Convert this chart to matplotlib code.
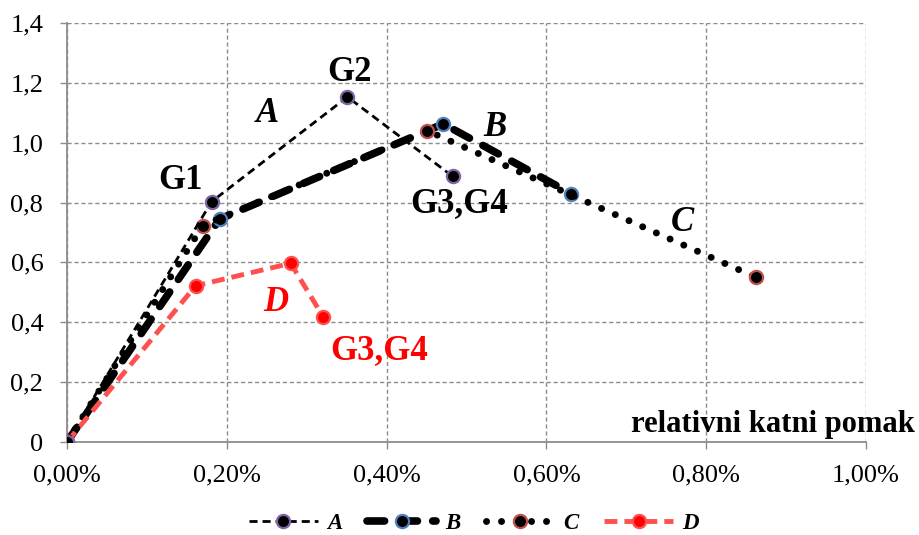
import matplotlib
matplotlib.use("Agg")
import matplotlib.pyplot as plt
from matplotlib.ticker import FuncFormatter, MultipleLocator

plt.rcParams['font.family'] = ['serif']
plt.rcParams['font.serif'] = ['Liberation Serif', 'DejaVu Serif']

# Data: x = relative storey drift (%), y = normalised force
A_x = [0.0, 0.181, 0.351, 0.4825]
A_y = [0.0, 0.803, 1.153, 0.888]
B_x = [0.0, 0.191, 0.471, 0.631]
B_y = [0.0, 0.745, 1.063, 0.830]
C_x = [0.0, 0.170, 0.451, 0.8625]
C_y = [0.0, 0.723, 1.040, 0.550]
D_x = [0.0, 0.161, 0.280, 0.321]
D_y = [0.0, 0.522, 0.597, 0.417]

fig = plt.figure(figsize=(9.2, 5.35), dpi=100)
ax = fig.add_axes([0.0728, 0.1738, 0.8685, 0.7832])

ms = 9.5
hA, = ax.plot(A_x, A_y, color='black', lw=2.0, ls=(0, (2.9, 1.8)), marker='o',
              ms=ms, mfc='black', mec='#8064a2', mew=1.6, label='A', zorder=4)
hB, = ax.plot(B_x, B_y, color='black', lw=5.5, ls=(0, (2.3, 2.0)),
              dash_capstyle='round', marker='o',
              ms=ms, mfc='black', mec='#4f81bd', mew=1.6, label='B', zorder=3)
hC, = ax.plot(C_x, C_y, color='black', lw=5.0, ls=(0, (0.01, 2.15)),
              dash_capstyle='round', marker='o',
              ms=ms, mfc='black', mec='#c0504d', mew=1.6, label='C', zorder=3)
hD, = ax.plot(D_x, D_y, color='#ff5050', lw=3.5, ls=(0, (2.65, 1.45)), marker='o',
              ms=ms, mfc='red', mec='#ff5050', mew=1.6, label='D', zorder=3)

ax.set_xlim(0, 1.0)
ax.set_ylim(0, 1.4)
ax.xaxis.set_major_locator(MultipleLocator(0.2))
ax.yaxis.set_major_locator(MultipleLocator(0.2))
ax.xaxis.set_major_formatter(FuncFormatter(lambda v, p: f"{v:.2f}%".replace('.', ',')))
ax.yaxis.set_major_formatter(FuncFormatter(lambda v, p: '0' if abs(v) < 1e-9 else f"{v:.1f}".replace('.', ',')))

ax.grid(True, color='#8c8c8c', ls=(0, (3, 2)), lw=1.0)
for s in ['top', 'right']:
    ax.spines[s].set_visible(False)
for s in ['left', 'bottom']:
    ax.spines[s].set_color('#8c8c8c')
    ax.spines[s].set_linewidth(1.3)
ax.tick_params(axis='both', labelsize=19, color='#8c8c8c', length=5, width=1.0,
               direction='out')
ax.tick_params(axis='x', pad=11)
ax.tick_params(axis='y', pad=12)
ax.set_axisbelow(True)

# Annotations
bold = dict(fontsize=25, fontweight='bold')
itb = dict(fontsize=25, fontstyle='italic', fontweight='bold')
ax.text(0.1425, 0.873, 'G1', ha='center', va='center', **bold)
ax.text(0.354, 1.233, 'G2', ha='center', va='center', **bold)
ax.text(0.251, 1.097, 'A', ha='center', va='center', **itb)
ax.text(0.535, 1.05, 'B', ha='center', va='center', **itb)
ax.text(0.491, 0.797, 'G3,G4', ha='center', va='center', **bold)
ax.text(0.77, 0.733, 'C', ha='center', va='center', **itb)
ax.text(0.261, 0.467, 'D', ha='center', va='center', color='red', **itb)
ax.text(0.391, 0.307, 'G3,G4', ha='center', va='center', color='red', **bold)
ax.text(1.061, 0.057, 'relativni katni pomak', ha='right', va='center',
        fontsize=22, fontweight='bold', clip_on=False)

leg = fig.legend(handles=[hA, hB, hC, hD], loc='center', bbox_to_anchor=(0.515, 0.022),
                 ncol=4, frameon=False, handlelength=3.0, columnspacing=1.1,
                 handletextpad=0.4,
                 prop={'family': ['Liberation Serif'], 'style': 'italic', 'weight': 'bold', 'size': 16.5})

fig.savefig('out.png', dpi=100)
